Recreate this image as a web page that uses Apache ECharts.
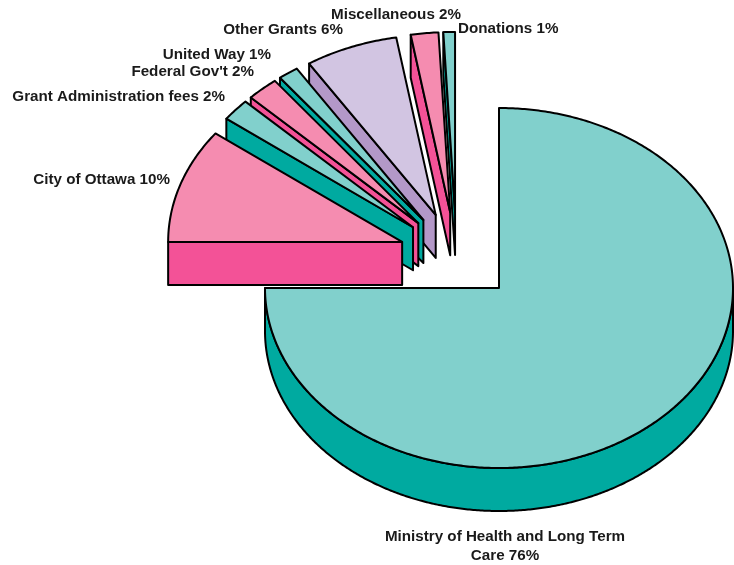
<!DOCTYPE html>
<html><head><meta charset="utf-8">
<style>html,body{margin:0;padding:0;background:#fff}#c{width:734px;height:565px}</style>
<script src="https://cdn.jsdelivr.net/npm/echarts@6/dist/echarts.min.js"></script>
</head><body><div id="c"></div>
<script>
// Data, clockwise from 12 o'clock
const categories = ['Ministry of Health and Long Term\nCare','City of Ottawa','Grant Administration fees',"Federal Gov't",'United Way','Other Grants','Miscellaneous','Donations'];
const sliceShares = [75,10.3,2,2.2,1.4,6.4,1.9,0.8];
const percentLabels = ['76%','10%','2%','2%','1%','6%','2%','1%'];

// Layout and style, kept apart from the data
const pie = {cx:499, cy:288, rx:234, ry:180, depth:43, explode:0.245, shiftX:-42.5, shiftY:-32};
const faces = {
  teal:{top:'#81D0CC', side:'#00AAA0'},
  pink:{top:'#F58CB0', side:'#F35297'},
  lilac:{top:'#D2C5E2', side:'#B398C8'}
};
const sliceTones = ['teal','pink','teal','pink','teal','lilac','pink','teal'];
const labelAnchors = [[505,546,'center'],[170,180,'right'],[225,97,'right'],[254,72,'right'],[271,55,'right'],[343,30,'right'],[461,15,'right'],[458,29,'left']];

const total = sliceShares.reduce((a,b)=>a+b,0);
const starts = [];
sliceShares.reduce((acc,v,i)=>{starts[i]=acc;return acc+v;},0);
const toRad = v => v/total*Math.PI*2;

function renderItem(params, api){
  const i = params.dataIndex;
  const a0 = toRad(starts[i]), a1 = a0 + toRad(api.value(1));
  const mid = (a0+a1)/2;
  let cx = pie.cx, cy = pie.cy;
  if(i>0){
    cx += pie.shiftX + pie.explode*pie.rx*Math.sin(mid);
    cy += pie.shiftY - pie.explode*pie.ry*Math.cos(mid);
  }
  const at = t => [cx+pie.rx*Math.sin(t), cy-pie.ry*Math.cos(t)];
  const tone = faces[sliceTones[i]];
  const z = i===0 ? 1 : 20-i;
  const line = {stroke:'#000', lineWidth:2, lineJoin:'round'};
  const arc = [];
  const n = Math.max(8, Math.ceil((a1-a0)/0.01));
  for(let k=0;k<=n;k++) arc.push(at(a0+(a1-a0)*k/n));
  const children = [];
  if(i===0){
    const band=[], back=[];
    const m=400;
    for(let k=0;k<=m;k++){
      const t=Math.PI/2+Math.PI*k/m, p=at(t);
      band.push(p); back.unshift([p[0],p[1]+pie.depth]);
    }
    children.push({type:'polygon',z2:z,shape:{points:band.concat(back)},style:Object.assign({fill:tone.side},line)});
  } else {
    const e=at(a0);
    children.push({type:'polygon',z2:z,shape:{points:[[cx,cy],e,[e[0],e[1]+pie.depth],[cx,cy+pie.depth]]},style:Object.assign({fill:tone.side},line)});
  }
  children.push({type:'polygon',z2:z,shape:{points:[[cx,cy]].concat(arc)},style:Object.assign({fill:tone.top},line)});
  const la = labelAnchors[i];
  children.push({type:'text',z2:50,x:la[0],y:la[1],style:{
    text:categories[i]+' '+percentLabels[i], align:la[2], verticalAlign:'middle',
    fill:'#1a1a1a', font:'bold 15.2px "Liberation Sans", Arial, sans-serif', lineHeight:19
  }});
  return {type:'group',children};
}

const chart = echarts.init(document.getElementById('c'),null,{renderer:'canvas'});
chart.setOption({
  animation:false,
  backgroundColor:'#fff',
  series:[{type:'custom',coordinateSystem:'none',renderItem,silent:true,clip:false,
    data:sliceShares.map((v,i)=>({name:categories[i],value:[i,v]}))}]
});
</script></body></html>
